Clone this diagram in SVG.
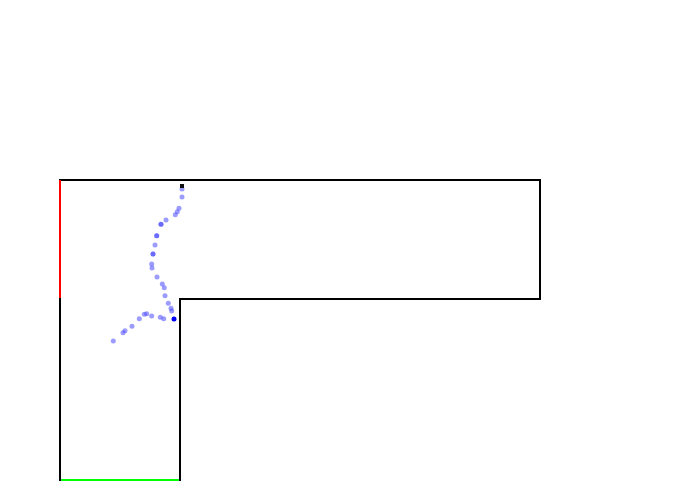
<svg xmlns="http://www.w3.org/2000/svg" width="700" height="500" viewBox="0 0 700 500">
<style>
.wall{fill:none;stroke:#000;stroke-width:2}
.d{fill:#3a3aff;fill-opacity:0.5}
</style>
<rect width="700" height="500" fill="#fff"/>
<g id="room">
<path class="wall" d="M60,180 H540 V299 H180 V480 H60 Z"/>
<line x1="60" y1="180" x2="60" y2="298" stroke="#ff0000" stroke-width="2"/>
<line x1="61" y1="480" x2="179" y2="480" stroke="#00ff00" stroke-width="2"/>
</g>
<g id="path">
<circle class="d" cx="182" cy="189" r="2.5"/>
<circle class="d" cx="182" cy="197" r="2.5"/>
<circle class="d" cx="179" cy="208.3" r="2.5"/>
<circle class="d" cx="177.3" cy="211.7" r="2.5"/>
<circle class="d" cx="175.3" cy="214.7" r="2.5"/>
<circle class="d" cx="166" cy="220" r="2.5"/>
<circle class="d" cx="161" cy="224.3" r="2.5"/>
<circle class="d" cx="161" cy="224.3" r="2.5"/>
<circle class="d" cx="156.7" cy="235.7" r="2.5"/>
<circle class="d" cx="156.7" cy="235.7" r="2.5"/>
<circle class="d" cx="155" cy="245" r="2.5"/>
<circle class="d" cx="153" cy="254" r="2.5"/>
<circle class="d" cx="153" cy="254" r="2.5"/>
<circle class="d" cx="151.7" cy="264" r="2.5"/>
<circle class="d" cx="152" cy="268" r="2.5"/>
<circle class="d" cx="157" cy="277" r="2.5"/>
<circle class="d" cx="162.3" cy="284" r="2.5"/>
<circle class="d" cx="164.3" cy="287.7" r="2.5"/>
<circle class="d" cx="165" cy="295.7" r="2.5"/>
<circle class="d" cx="168.3" cy="303.3" r="2.5"/>
<circle class="d" cx="171" cy="308.3" r="2.5"/>
<circle class="d" cx="171.7" cy="311" r="2.5"/>
<circle class="d" cx="163.7" cy="318.7" r="2.5"/>
<circle class="d" cx="160.3" cy="317.3" r="2.5"/>
<circle class="d" cx="151.7" cy="316" r="2.5"/>
<circle class="d" cx="146.7" cy="313.7" r="2.5"/>
<circle class="d" cx="144.3" cy="314.3" r="2.5"/>
<circle class="d" cx="139.3" cy="318.7" r="2.5"/>
<circle class="d" cx="132" cy="326.3" r="2.5"/>
<circle class="d" cx="125" cy="330.7" r="2.5"/>
<circle class="d" cx="123" cy="332.7" r="2.5"/>
<circle class="d" cx="113.3" cy="341" r="2.5"/>
<circle cx="174" cy="319" r="2.5" fill="#0000ff"/>
<rect x="180" y="184" width="4" height="4" fill="#111"/>
</g>
</svg>
